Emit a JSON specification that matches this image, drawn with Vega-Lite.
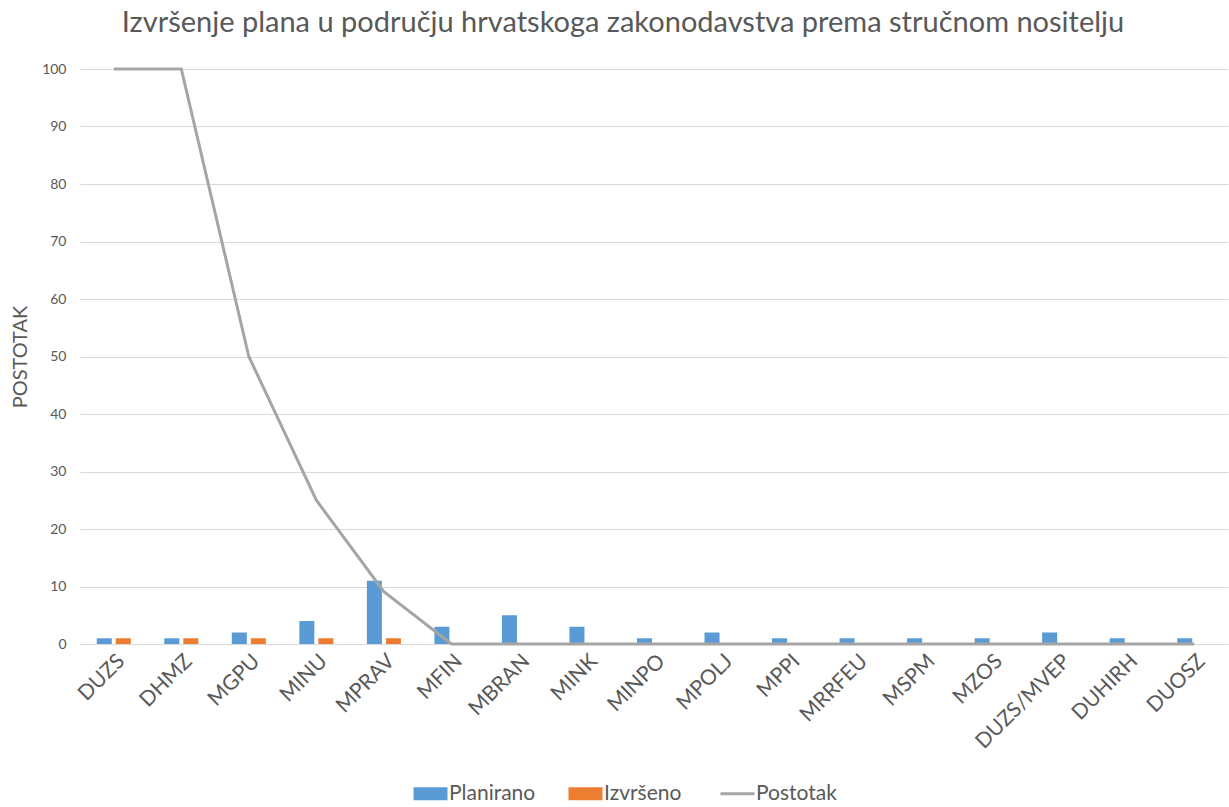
{
  "$schema": "https://vega.github.io/schema/vega-lite/v6.json",
  "autosize": "none",
  "width": 1148,
  "height": 575,
  "padding": {"left": 80, "top": 69, "right": 1, "bottom": 163},
  "background": "white",
  "title": {
    "text": "Izvršenje plana u području hrvatskoga zakonodavstva prema stručnom nositelju",
    "font": "Lato",
    "fontSize": 29,
    "fontWeight": "normal",
    "color": "#595959",
    "anchor": "middle",
    "dx": -31,
    "offset": 24
  },
  "config": {
    "view": {"stroke": null},
    "axis": {"labelFont": "Lato", "titleFont": "Lato", "labelColor": "#595959", "titleColor": "#595959"},
    "legend": {"labelFont": "Lato"}
  },
  "datasets": {
    "bars": [
      {"nositelj": "DUZS", "serija": "Planirano", "broj": 1},
      {"nositelj": "DUZS", "serija": "Izvršeno", "broj": 1},
      {"nositelj": "DHMZ", "serija": "Planirano", "broj": 1},
      {"nositelj": "DHMZ", "serija": "Izvršeno", "broj": 1},
      {"nositelj": "MGPU", "serija": "Planirano", "broj": 2},
      {"nositelj": "MGPU", "serija": "Izvršeno", "broj": 1},
      {"nositelj": "MINU", "serija": "Planirano", "broj": 4},
      {"nositelj": "MINU", "serija": "Izvršeno", "broj": 1},
      {"nositelj": "MPRAV", "serija": "Planirano", "broj": 11},
      {"nositelj": "MPRAV", "serija": "Izvršeno", "broj": 1},
      {"nositelj": "MFIN", "serija": "Planirano", "broj": 3},
      {"nositelj": "MFIN", "serija": "Izvršeno", "broj": 0},
      {"nositelj": "MBRAN", "serija": "Planirano", "broj": 5},
      {"nositelj": "MBRAN", "serija": "Izvršeno", "broj": 0},
      {"nositelj": "MINK", "serija": "Planirano", "broj": 3},
      {"nositelj": "MINK", "serija": "Izvršeno", "broj": 0},
      {"nositelj": "MINPO", "serija": "Planirano", "broj": 1},
      {"nositelj": "MINPO", "serija": "Izvršeno", "broj": 0},
      {"nositelj": "MPOLJ", "serija": "Planirano", "broj": 2},
      {"nositelj": "MPOLJ", "serija": "Izvršeno", "broj": 0},
      {"nositelj": "MPPI", "serija": "Planirano", "broj": 1},
      {"nositelj": "MPPI", "serija": "Izvršeno", "broj": 0},
      {"nositelj": "MRRFEU", "serija": "Planirano", "broj": 1},
      {"nositelj": "MRRFEU", "serija": "Izvršeno", "broj": 0},
      {"nositelj": "MSPM", "serija": "Planirano", "broj": 1},
      {"nositelj": "MSPM", "serija": "Izvršeno", "broj": 0},
      {"nositelj": "MZOS", "serija": "Planirano", "broj": 1},
      {"nositelj": "MZOS", "serija": "Izvršeno", "broj": 0},
      {"nositelj": "DUZS/MVEP", "serija": "Planirano", "broj": 2},
      {"nositelj": "DUZS/MVEP", "serija": "Izvršeno", "broj": 0},
      {"nositelj": "DUHIRH", "serija": "Planirano", "broj": 1},
      {"nositelj": "DUHIRH", "serija": "Izvršeno", "broj": 0},
      {"nositelj": "DUOSZ", "serija": "Planirano", "broj": 1},
      {"nositelj": "DUOSZ", "serija": "Izvršeno", "broj": 0}
    ],
    "line": [
      {"nositelj": "DUZS", "serija": "Postotak", "postotak": 100},
      {"nositelj": "DHMZ", "serija": "Postotak", "postotak": 100},
      {"nositelj": "MGPU", "serija": "Postotak", "postotak": 50},
      {"nositelj": "MINU", "serija": "Postotak", "postotak": 25},
      {"nositelj": "MPRAV", "serija": "Postotak", "postotak": 9.09},
      {"nositelj": "MFIN", "serija": "Postotak", "postotak": 0},
      {"nositelj": "MBRAN", "serija": "Postotak", "postotak": 0},
      {"nositelj": "MINK", "serija": "Postotak", "postotak": 0},
      {"nositelj": "MINPO", "serija": "Postotak", "postotak": 0},
      {"nositelj": "MPOLJ", "serija": "Postotak", "postotak": 0},
      {"nositelj": "MPPI", "serija": "Postotak", "postotak": 0},
      {"nositelj": "MRRFEU", "serija": "Postotak", "postotak": 0},
      {"nositelj": "MSPM", "serija": "Postotak", "postotak": 0},
      {"nositelj": "MZOS", "serija": "Postotak", "postotak": 0},
      {"nositelj": "DUZS/MVEP", "serija": "Postotak", "postotak": 0},
      {"nositelj": "DUHIRH", "serija": "Postotak", "postotak": 0},
      {"nositelj": "DUOSZ", "serija": "Postotak", "postotak": 0}
    ]
  },
  "encoding": {
    "x": {
      "field": "nositelj",
      "type": "nominal",
      "sort": null,
      "scale": {"paddingInner": 0, "paddingOuter": 0},
      "axis": {
        "title": null,
        "labelAngle": -45,
        "labelFontSize": 21,
        "labelPadding": 6,
        "ticks": false,
        "domain": false,
        "grid": false
      }
    }
  },
  "layer": [
    {
      "data": {"name": "bars"},
      "mark": {"type": "bar"},
      "encoding": {
        "xOffset": {
          "field": "serija",
          "type": "nominal",
          "sort": ["Planirano", "Izvršeno"],
          "scale": {"paddingInner": 0.21, "paddingOuter": 0.88}
        },
        "y": {
          "field": "broj",
          "type": "quantitative",
          "scale": {"domain": [0, 100]},
          "axis": {
            "title": "POSTOTAK",
            "titleFontSize": 20,
            "titleFontWeight": "normal",
            "titlePadding": 11,
            "labelFontSize": 14,
            "labelPadding": 14,
            "values": [0, 10, 20, 30, 40, 50, 60, 70, 80, 90, 100],
            "ticks": false,
            "domain": false,
            "gridColor": "#D9D9D9",
            "gridWidth": 1
          }
        },
        "color": {
          "field": "serija",
          "type": "nominal",
          "scale": {
            "domain": ["Planirano", "Izvršeno", "Postotak"],
            "range": ["#5B9BD5", "#ED7D31", "#A5A5A5"]
          },
          "legend": {
            "title": null,
            "orient": "none",
            "direction": "horizontal",
            "legendX": 340,
            "legendY": 714,
            "labelFontSize": 21,
            "labelColor": "#595959",
            "labelOffset": 8,
            "columnPadding": 32,
            "symbolType": "M-1,-0.38H1V0.38H-1Z",
            "symbolSize": 1156,
            "symbolStrokeWidth": 0,
            "encode": {
              "symbols": {
                "update": {
                  "shape": {"signal": "datum.value === 'Postotak' ? 'M-1,0H1' : 'M-1,-0.38H1V0.38H-1Z'"},
                  "fill": {"signal": "datum.value === 'Postotak' ? 'transparent' : scale('color', datum.value)"},
                  "stroke": {"signal": "scale('color', datum.value)"},
                  "strokeWidth": {"signal": "datum.value === 'Postotak' ? 3 : 0"},
                  "opacity": {"value": 1},
                  "fillOpacity": {"value": 1}
                }
              }
            }
          }
        }
      }
    },
    {
      "data": {"name": "line"},
      "mark": {"type": "line", "strokeWidth": 3},
      "encoding": {
        "y": {"field": "postotak", "type": "quantitative"},
        "color": {"field": "serija", "type": "nominal"}
      }
    }
  ]
}
